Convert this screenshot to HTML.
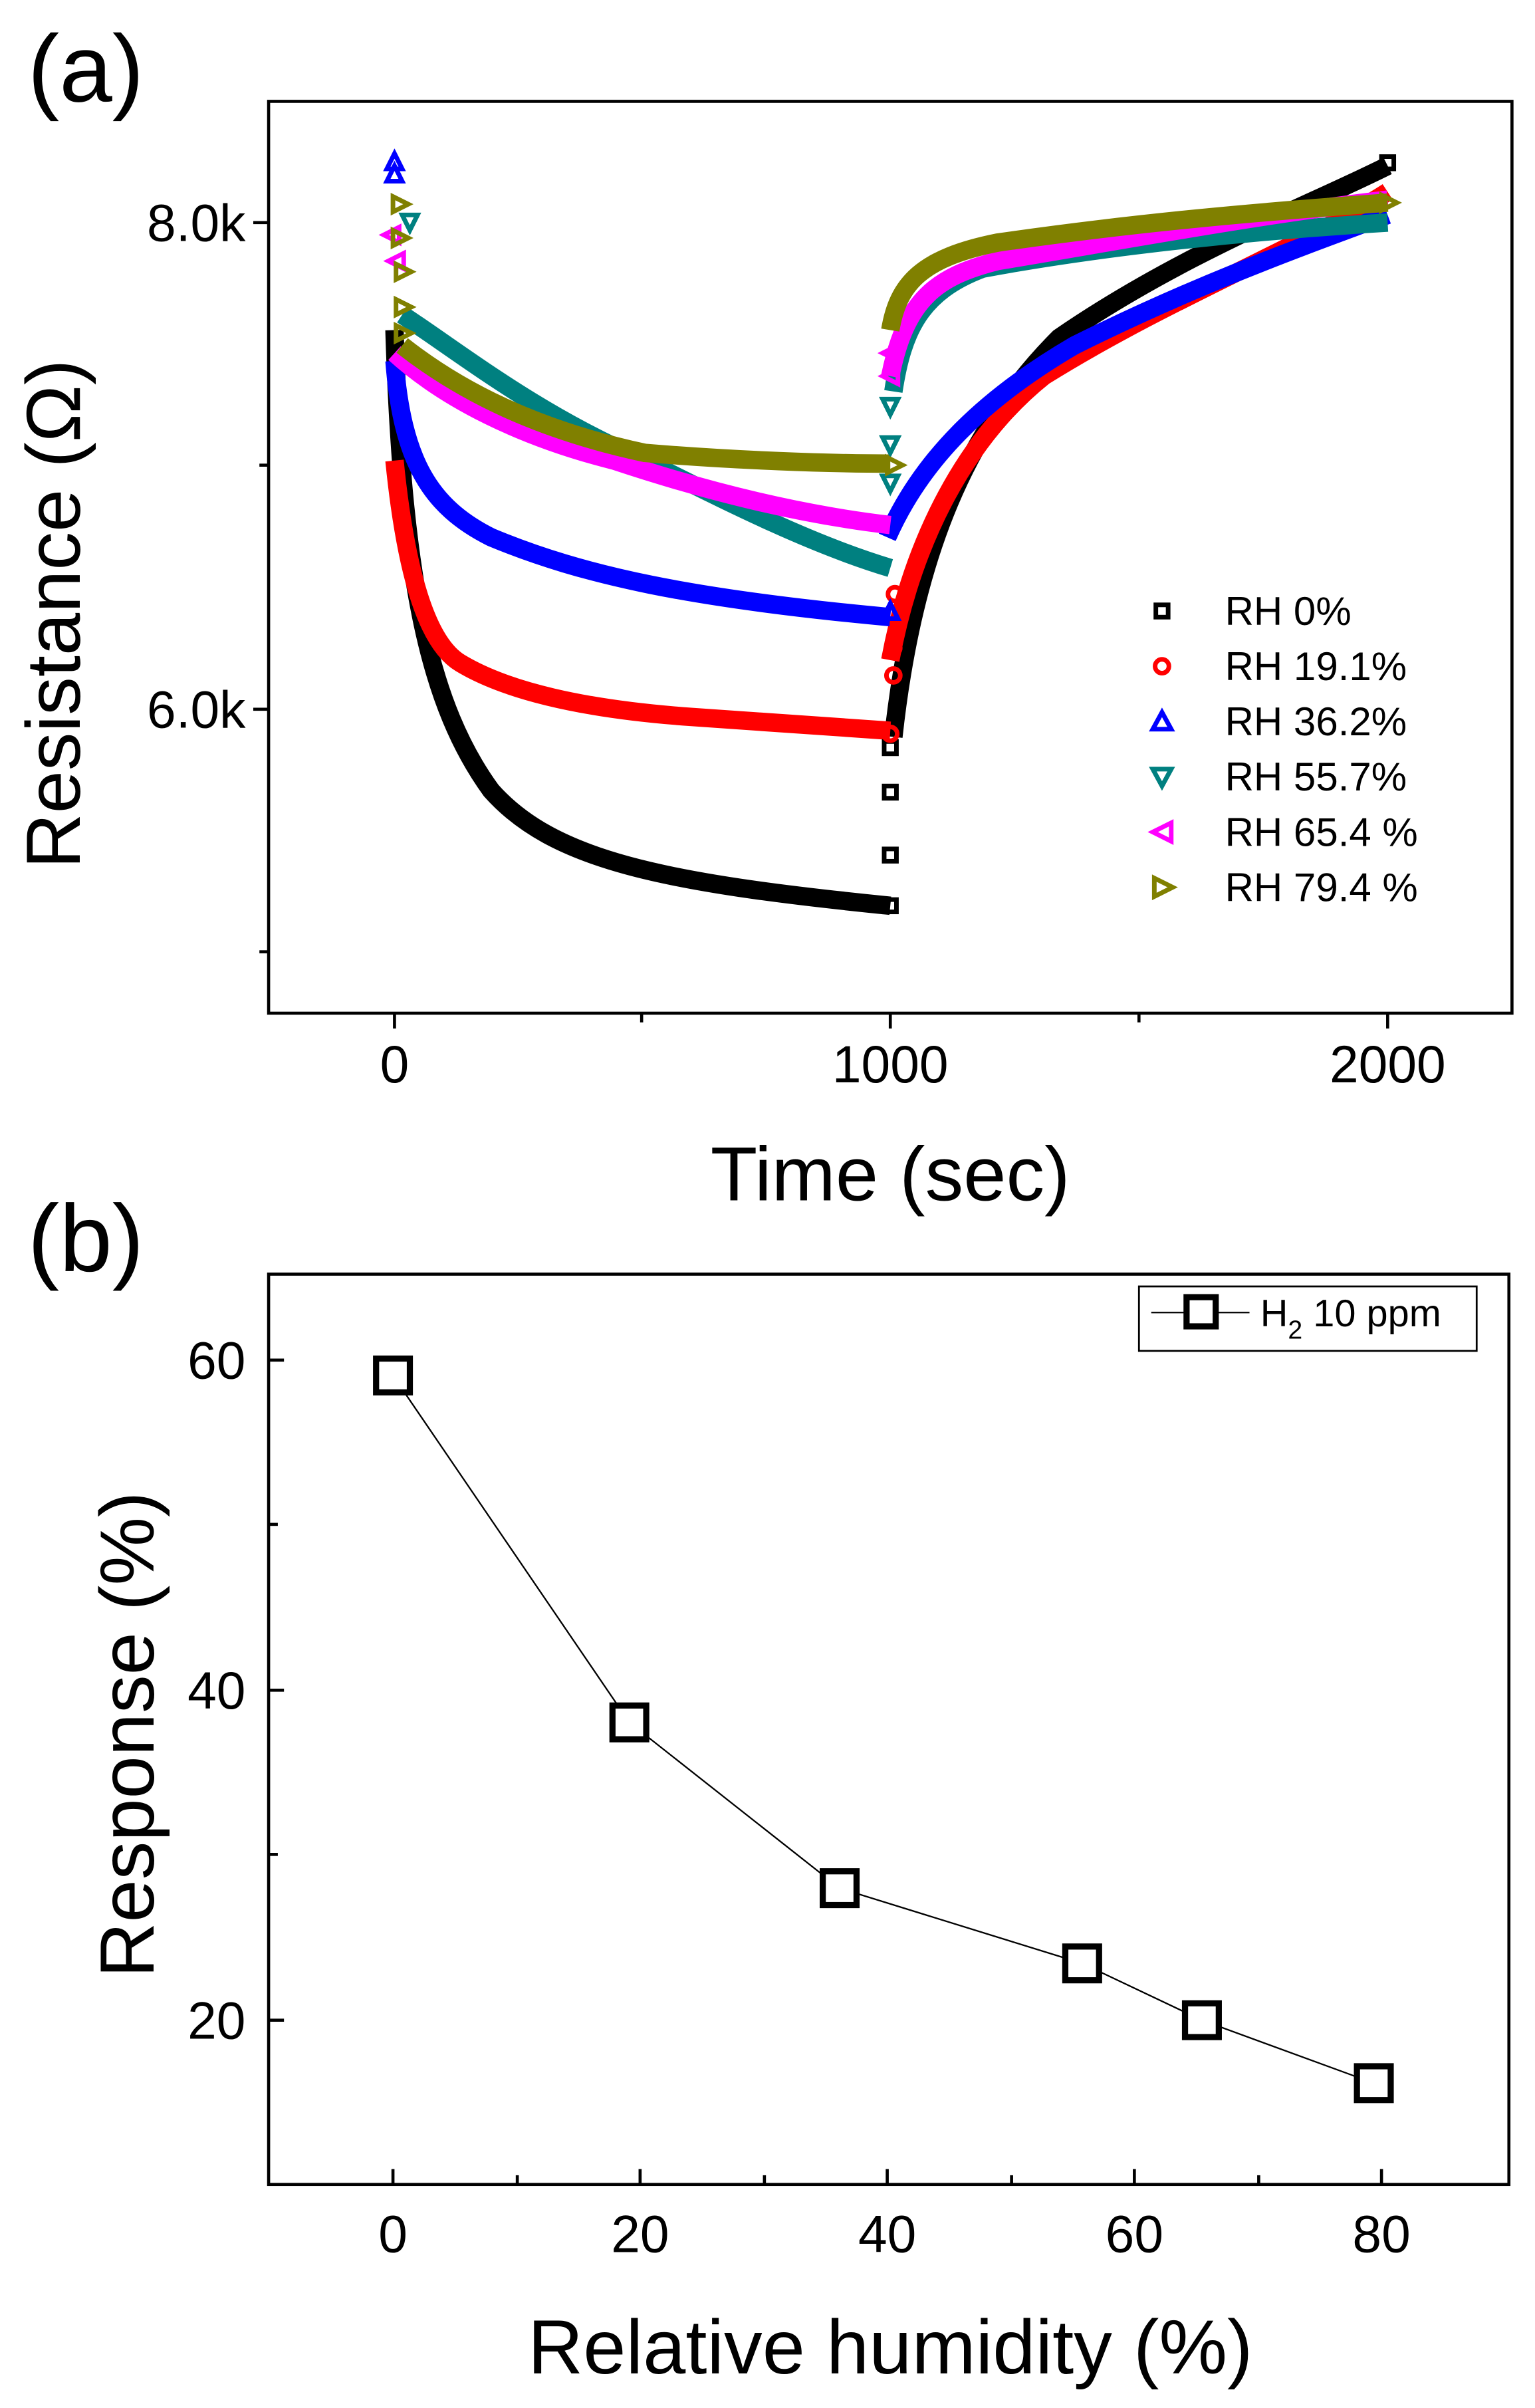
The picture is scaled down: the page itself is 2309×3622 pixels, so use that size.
<!DOCTYPE html>
<html><head><meta charset="utf-8"><style>html,body{margin:0;padding:0;background:#fff}svg{display:block}</style></head>
<body>
<svg width="2309" height="3622" viewBox="0 0 1000 1568.6" xmlns="http://www.w3.org/2000/svg" font-family="Liberation Sans, Arial, sans-serif">
<rect width="1000" height="1568.6" fill="#fff"/>
<!-- Panel a -->
<text x="18" y="66" font-size="62">(a)</text>
<g fill="none" stroke-width="12" stroke-linecap="butt">
<path stroke="#000" d="M257,215 C262,380 280,460 320,515 C360,560 430,575 580,590"/>
<path stroke="#000" d="M582,480 C595,360 630,280 690,220 C770,165 850,135 904,108"/>
<path stroke="#ff0000" d="M257,300 C265,380 280,420 300,432 C330,450 380,462 450,467 C520,472 560,475 580,476"/>
<path stroke="#ff0000" d="M580,430 C595,350 630,285 680,245 C760,195 850,160 904,125"/>
<path stroke="#0000ff" d="M257,235 C262,300 280,330 320,350 C380,375 450,390 580,402"/>
<path stroke="#0000ff" d="M578,350 C600,300 640,260 700,225 C780,185 850,160 904,140"/>
<path stroke="#008080" d="M262,205 C300,230 350,270 420,300 C480,330 530,355 580,370"/>
<path stroke="#008080" d="M582,255 C588,215 600,190 640,175 C720,160 820,150 904,145"/>
<path stroke="#ff00ff" d="M257,230 C290,260 340,285 400,300 C460,320 520,335 580,342"/>
<path stroke="#ff00ff" d="M580,245 C590,195 610,180 650,170 C740,155 820,140 904,130"/>
<path stroke="#808000" d="M262,225 C300,255 350,280 420,295 C480,300 540,302 580,302"/>
<path stroke="#808000" d="M580,215 C585,185 600,168 650,158 C740,145 820,138 904,132"/>
</g>
<g fill="none" stroke-width="3">
<g stroke="#000"><rect x="576" y="586" width="8" height="8"/><rect x="576" y="553" width="8" height="8"/><rect x="576" y="512" width="8" height="8"/><rect x="576" y="483" width="8" height="8"/><rect x="900" y="102" width="8" height="8"/></g>
<g stroke="#ff0000"><circle cx="582" cy="440" r="4.5"/><circle cx="582" cy="422" r="4.5"/><circle cx="583" cy="387" r="4.5"/><circle cx="580" cy="478" r="4.5"/></g>
<g stroke="#0000ff"><path d="M257,100 L262,110 L252,110Z M257,108 L262,118 L252,118Z M580,393 L585,403 L575,403Z"/></g>
<g stroke="#008080"><path d="M575,260 L585,260 L580,270Z M575,285 L585,285 L580,295Z M575,310 L585,310 L580,320Z M262,140 L272,140 L267,150Z"/></g>
<g stroke="#ff00ff"><path d="M250,153 L260,148 L260,158Z M253,170 L263,165 L263,175Z M575,230 L585,225 L585,235Z M575,245 L585,240 L585,250Z"/></g>
<g stroke="#808000"><path d="M256,128 L266,133 L256,138Z M256,150 L266,155 L256,160Z M258,172 L268,177 L258,182Z M258,195 L268,200 L258,205Z M258,212 L268,217 L258,222Z M578,298 L588,303 L578,308Z M900,127 L910,132 L900,137Z"/></g>
</g>
<rect x="175" y="66" width="810" height="594" fill="none" stroke="#000" stroke-width="2"/>
<g stroke="#000" stroke-width="2">
<line x1="257" y1="660" x2="257" y2="670"/><line x1="418" y1="660" x2="418" y2="666"/><line x1="580" y1="660" x2="580" y2="670"/><line x1="742" y1="660" x2="742" y2="666"/><line x1="904" y1="660" x2="904" y2="670"/>
<line x1="165" y1="145" x2="175" y2="145"/><line x1="169" y1="303" x2="175" y2="303"/><line x1="165" y1="462" x2="175" y2="462"/><line x1="169" y1="620" x2="175" y2="620"/>
</g>
<g font-size="34" text-anchor="middle">
<text x="257" y="705">0</text><text x="580" y="705">1000</text><text x="904" y="705">2000</text>
</g>
<g font-size="34" text-anchor="end">
<text x="160" y="157">8.0k</text><text x="160" y="474">6.0k</text>
</g>
<text x="580" y="782" font-size="50" text-anchor="middle">Time (sec)</text>
<text transform="translate(52,400) rotate(-90)" font-size="50" text-anchor="middle">Resistance (Ω)</text>
<g fill="none" stroke-width="3">
<rect x="753" y="394" width="8" height="8" stroke="#000"/>
<circle cx="757" cy="434" r="4.5" stroke="#ff0000"/>
<path d="M757,464 L763,475 L751,475Z" stroke="#0000ff"/>
<path d="M751,501 L763,501 L757,512Z" stroke="#008080"/>
<path d="M751,542 L763,536 L763,548Z" stroke="#ff00ff"/>
<path d="M752,572 L764,578 L752,584Z" stroke="#808000"/>
</g>
<g font-size="26">
<text x="798" y="407">RH 0%</text><text x="798" y="443">RH 19.1%</text><text x="798" y="479">RH 36.2%</text><text x="798" y="515">RH 55.7%</text><text x="798" y="551">RH 65.4 %</text><text x="798" y="587">RH 79.4 %</text>
</g>
<!-- Panel b -->
<text x="18" y="828" font-size="62">(b)</text>
<rect x="175" y="830" width="808" height="593" fill="none" stroke="#000" stroke-width="2"/>
<polyline fill="none" stroke="#000" stroke-width="1" points="256,896 410,1122 547,1230 705,1279 783,1316 895,1357"/>
<g fill="#fff" stroke="#000" stroke-width="4">
<rect x="245" y="885" width="22" height="22"/><rect x="399" y="1111" width="22" height="22"/><rect x="536" y="1219" width="22" height="22"/><rect x="694" y="1268" width="22" height="22"/><rect x="772" y="1305" width="22" height="22"/><rect x="884" y="1346" width="22" height="22"/>
</g>
<g stroke="#000" stroke-width="2">
<line x1="256" y1="1423" x2="256" y2="1413"/><line x1="337" y1="1423" x2="337" y2="1417"/><line x1="417" y1="1423" x2="417" y2="1413"/><line x1="498" y1="1423" x2="498" y2="1417"/><line x1="578" y1="1423" x2="578" y2="1413"/><line x1="659" y1="1423" x2="659" y2="1417"/><line x1="739" y1="1423" x2="739" y2="1413"/><line x1="820" y1="1423" x2="820" y2="1417"/><line x1="900" y1="1423" x2="900" y2="1413"/>
<line x1="175" y1="886" x2="185" y2="886"/><line x1="175" y1="993" x2="181" y2="993"/><line x1="175" y1="1101" x2="185" y2="1101"/><line x1="175" y1="1208" x2="181" y2="1208"/><line x1="175" y1="1316" x2="185" y2="1316"/>
</g>
<g font-size="34" text-anchor="middle">
<text x="256" y="1467">0</text><text x="417" y="1467">20</text><text x="578" y="1467">40</text><text x="739" y="1467">60</text><text x="900" y="1467">80</text>
</g>
<g font-size="34" text-anchor="end">
<text x="160" y="898">60</text><text x="160" y="1113">40</text><text x="160" y="1328">20</text>
</g>
<text x="580" y="1546" font-size="50" text-anchor="middle">Relative humidity (%)</text>
<text transform="translate(100,1130) rotate(-90)" font-size="50" text-anchor="middle">Response (%)</text>
<rect x="742" y="838" width="220" height="42" fill="#fff" stroke="#000" stroke-width="1.2"/>
<line x1="750" y1="855" x2="814" y2="855" stroke="#000" stroke-width="1"/>
<rect x="773" y="845" width="19" height="19" fill="#fff" stroke="#000" stroke-width="4"/>
<text x="821" y="864" font-size="25">H<tspan font-size="17" dy="8">2</tspan><tspan dy="-8"> 10 ppm</tspan></text>
</svg>
</body></html>
